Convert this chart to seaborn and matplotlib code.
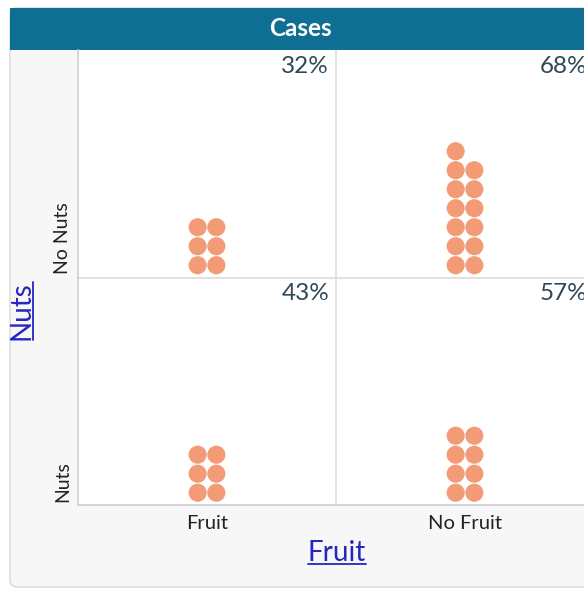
import pandas as pd
import numpy as np
import seaborn as sns
import matplotlib.pyplot as plt
from matplotlib.patches import FancyBboxPatch, Rectangle
from matplotlib.lines import Line2D

# data: counts of cases per fruit / nuts cell
fruit_levels = ['Fruit', 'No Fruit']
nuts_levels = ['Nuts', 'No Nuts']      # bottom row first
cell_fruit = ['Fruit', 'No Fruit', 'Fruit', 'No Fruit']
cell_nuts = ['No Nuts', 'No Nuts', 'Nuts', 'Nuts']
cell_count = [6, 13, 6, 8]
cell_pct = ['32%', '68%', '43%', '57%']

sns.set_theme(style='white')
plt.rcParams['font.family'] = ['Lato', 'DejaVu Sans']

# one row per dot, stacked two per row from the bottom of each cell
rows = []
for f, n, c in zip(cell_fruit, cell_nuts, cell_count):
    for k in range(c):
        rows.append({'fruit': f, 'nuts': n, 'k': k})
df = pd.DataFrame(rows)
dx, dy = 0.0725, 0.0835
df['x'] = df['fruit'].map(fruit_levels.index) + (df['k'] % 2 - 0.5) * dx
df['y'] = df['nuts'].map(nuts_levels.index) + 0.054 + (df['k'] // 2) * dy

fig = plt.figure(figsize=(5.84, 5.90), dpi=100, facecolor='white')

# card background and title bar
card = FancyBboxPatch((10 / 584, 3 / 590), 600 / 584, 579 / 590,
                      boxstyle='round,pad=0,rounding_size=0.012',
                      transform=fig.transFigure, facecolor='#f7f7f7',
                      edgecolor='#dedede', lw=1.2, zorder=-2)
fig.patches.append(card)
bar = Rectangle((10 / 584, 540 / 590), 600 / 584, 42 / 590,
                transform=fig.transFigure, facecolor='#0f6f92',
                edgecolor='none', zorder=-1)
fig.patches.append(bar)
fig.text(300 / 584, 561 / 590, 'Cases', color='white', fontsize=17.5,
         fontweight='bold', ha='center', va='center')

ax = fig.add_axes([78 / 584, 85 / 590, 516 / 584, 455 / 590])
ax.set_zorder(2)
ax.set_facecolor('white')
sns.scatterplot(data=df, x='x', y='y', ax=ax, s=170, color='#f2926a',
                alpha=0.92, edgecolor='none', legend=False, zorder=3)

ax.set_xlim(-0.5, 1.5)
ax.set_ylim(0, 2)
ax.axvline(0.5, color='#dcdcdc', lw=1.2, zorder=1)
ax.axhline(1, color='#dcdcdc', lw=1.2, zorder=1)
for s in ['top', 'right']:
    ax.spines[s].set_visible(False)
for s in ['left', 'bottom']:
    ax.spines[s].set_color('#cfcfcf')
    ax.spines[s].set_linewidth(1.2)

ax.set_xticks(range(len(fruit_levels)))
ax.set_xticklabels(fruit_levels, fontsize=14.5, color='#222222')
ax.set_yticks([0.015, 1.015])
ax.set_yticklabels(nuts_levels, fontsize=14, color='#222222')
for lab in ax.get_yticklabels():
    lab.set_rotation(90)
    lab.set_va('bottom')
ax.tick_params(axis='x', length=3, color='#cfcfcf', pad=4)
ax.tick_params(axis='y', length=0, pad=5)
ax.set_xlabel('')
ax.set_ylabel('')

# percentage labels in the top-right corner of each cell
for f, n, p in zip(cell_fruit, cell_nuts, cell_pct):
    ax.annotate(p, xy=(fruit_levels.index(f) + 0.5, nuts_levels.index(n) + 1),
                xytext=(-5, -4), textcoords='offset points', ha='right',
                va='top', fontsize=17.5, color='#2f4858')

# underlined axis titles
blue = '#2626c0'
tx = fig.text(337 / 584, 37 / 590, 'Fruit', color=blue, fontsize=20,
              ha='center', va='center')
ty = fig.text(22 / 584, 279 / 590, 'Nuts', color=blue, fontsize=20,
              ha='center', va='center', rotation=90)
fig.canvas.draw()
r = fig.canvas.get_renderer()
inv = fig.transFigure.inverted()
bx = inv.transform(tx.get_window_extent(r))
fig.add_artist(Line2D([bx[0, 0], bx[1, 0]], [bx[0, 1] + 0.004] * 2,
                      transform=fig.transFigure, color=blue, lw=1.3))
by = inv.transform(ty.get_window_extent(r))
fig.add_artist(Line2D([by[1, 0] - 0.004] * 2, [by[0, 1], by[1, 1]],
                      transform=fig.transFigure, color=blue, lw=1.3))

fig.savefig('out.png', dpi=100, facecolor='white')
